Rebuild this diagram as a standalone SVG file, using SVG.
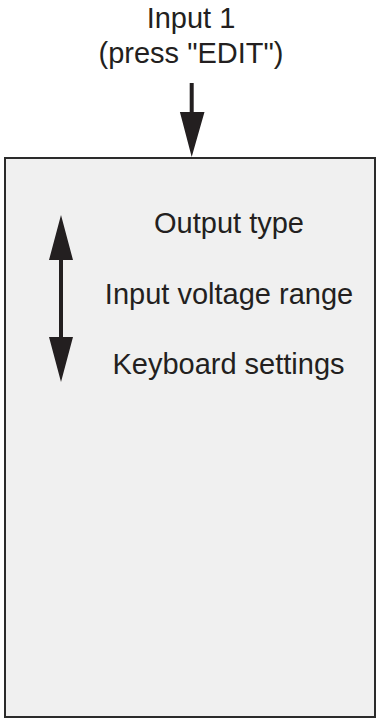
<svg xmlns="http://www.w3.org/2000/svg" width="378" height="720" viewBox="0 0 378 720">
<style>
text{font-family:"Liberation Sans",Arial,sans-serif;font-size:29px;fill:#231f20;text-anchor:middle}
.box{fill:#f0f0f0;stroke:#2b2b2b;stroke-width:2}
.ar{fill:#231f20}
</style>
<rect width="378" height="720" fill="#ffffff"/>
<g id="input-label">
<text x="191" y="28">Input 1</text>
<text x="191" y="63">(press "EDIT")</text>
</g>
<g id="menu-box">
<rect class="box" x="5" y="158" width="370" height="559"/>
<text x="229" y="233">Output type</text>
<text x="229" y="304">Input voltage range</text>
<text x="228.5" y="374">Keyboard settings</text>
</g>
<g id="connectors">
<path class="ar" d="M189.7,83 H193.7 V112 H204.5 L191.7,157 L179.9,112 H189.7 Z"/>
<path class="ar" d="M61,215 L73,260 H63 V337 H73 L61,382 L49,337 H59 V260 H49 Z"/>
</g>
</svg>
